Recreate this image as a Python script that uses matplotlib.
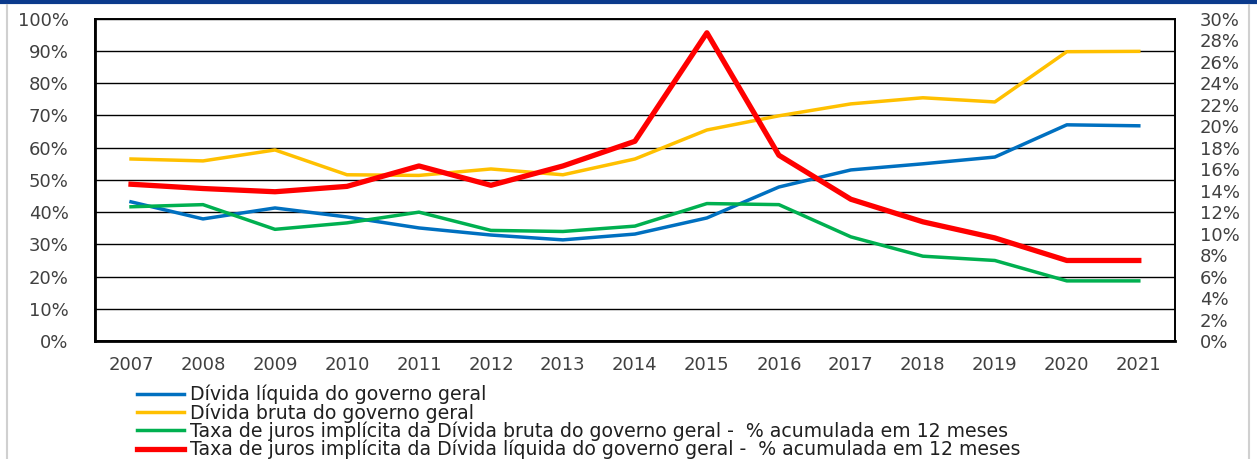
import matplotlib.pyplot as plt
from matplotlib.lines import Line2D
import numpy as np

anos = ['2007', '2008', '2009', '2010', '2011', '2012', '2013', '2014',
        '2015', '2016', '2017', '2018', '2019', '2020', '2021']

# eixo esquerdo (% do PIB)
divida_liquida = [43.2, 37.9, 41.3, 38.5, 35.1, 32.9, 31.4, 33.2, 38.2, 47.8, 53.1, 55.0, 57.1, 67.1, 66.8]
divida_bruta = [56.5, 55.9, 59.3, 51.6, 51.4, 53.4, 51.6, 56.5, 65.5, 69.9, 73.6, 75.5, 74.2, 89.8, 89.9]

# eixo direito (taxa implicita)
juros_bruta = [12.5, 12.7, 10.4, 11.0, 12.0, 10.3, 10.2, 10.7, 12.8, 12.7, 9.7, 7.9, 7.5, 5.6, 5.6]
juros_liquida = [14.6, 14.2, 13.9, 14.4, 16.3, 14.5, 16.3, 18.6, 28.7, 17.3, 13.2, 11.1, 9.6, 7.5, 7.5]

labels = ['Dívida líquida do governo geral',
          'Dívida bruta do governo geral',
          'Taxa de juros implícita da Dívida bruta do governo geral -  % acumulada em 12 meses',
          'Taxa de juros implícita da Dívida líquida do governo geral -  % acumulada em 12 meses']
cores = ['#0070C0', '#FFC000', '#00B050', '#FF0000']

plt.rcParams['font.family'] = ['DejaVu Sans']
txt = '#404040'
fs = 13

fig = plt.figure(figsize=(12.57, 4.59), dpi=100)
ax = fig.add_axes([0.0756, 0.257, 0.859, 0.702])
ax2 = ax.twinx()

x = np.arange(len(anos))
l1, = ax.plot(x, divida_liquida, color=cores[0], lw=2.5)
l2, = ax.plot(x, divida_bruta, color=cores[1], lw=2.5)
l3, = ax2.plot(x, juros_bruta, color=cores[2], lw=2.5)
l4, = ax2.plot(x, juros_liquida, color=cores[3], lw=3.8)

ax.set_xlim(-0.5, len(anos) - 0.5)
ax.set_ylim(0, 100)
ax2.set_ylim(0, 30)
ax.set_yticks(range(0, 101, 10))
ax.set_yticklabels([f'{v}%' for v in range(0, 101, 10)])
ax2.set_yticks(range(0, 31, 2))
ax2.set_yticklabels([f'{v}%' for v in range(0, 31, 2)])
ax.set_xticks(x)
ax.set_xticklabels(anos)

ax.grid(axis='y', color='black', lw=1.0)
ax.set_axisbelow(True)
for a in (ax, ax2):
    for s in a.spines.values():
        s.set_color('black')
        s.set_linewidth(1.2)
    a.tick_params(length=0, labelsize=fs, colors=txt)
ax.spines['left'].set_linewidth(2)
ax.spines['bottom'].set_linewidth(2)
ax.tick_params(axis='y', pad=19)
ax.tick_params(axis='x', pad=11)
ax2.tick_params(axis='y', pad=18)

fig.legend([l1, l2, l3, l4], labels, loc='upper left', bbox_to_anchor=(0.109, 0.162),
           frameon=False, fontsize=13.6, labelspacing=-0.06, handlelength=2.5,
           handletextpad=0.3, borderaxespad=0, borderpad=0, labelcolor='#202020')

# moldura da imagem
fig.add_artist(Line2D([0, 1], [0.996, 0.996], color='#0B3A8C', lw=3, transform=fig.transFigure))
fig.add_artist(Line2D([0.0055, 0.0055], [0, 0.99], color='#D0D0D0', lw=1.5, transform=fig.transFigure))
fig.add_artist(Line2D([0.994, 0.994], [0, 0.99], color='#D0D0D0', lw=1.5, transform=fig.transFigure))

fig.savefig('out.png', dpi=100)
